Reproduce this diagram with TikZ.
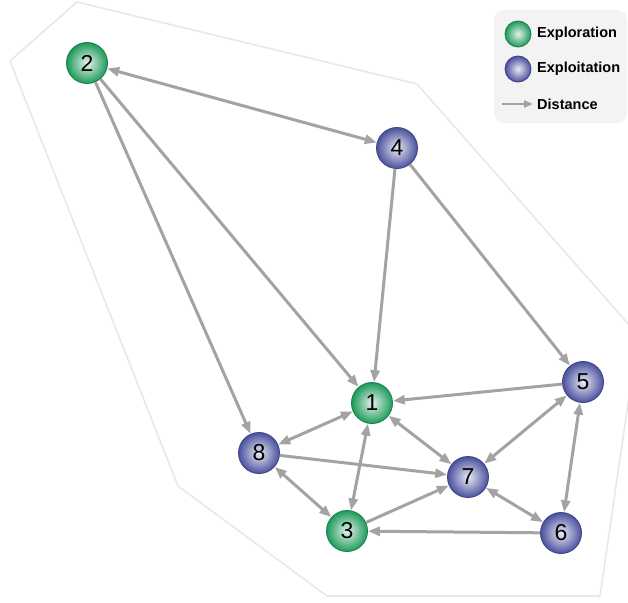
\documentclass[tikz,border=0pt]{standalone}
\usepackage{fontspec}
\setmainfont{Liberation Sans}
\usepackage{xcolor}
\usepackage{tikz}
\usetikzlibrary{arrows.meta}

\definecolor{exploreg}{HTML}{1E9A5A}
\definecolor{exploitb}{HTML}{4B519E}
\definecolor{edgegray}{HTML}{A3A3A3}
\definecolor{hullgray}{HTML}{E8E8E8}
\definecolor{legendbg}{HTML}{F3F3F3}

\begin{document}
\begin{tikzpicture}[x=1pt, y=-1pt,
  agent/.style={circle, minimum size=41pt, inner sep=0pt, line width=0.9pt, font=\fontsize{23}{23}\selectfont},
  explore/.style={agent, draw=exploreg!85!black, shading=radial, inner color=exploreg!12!white, outer color=exploreg},
  exploit/.style={agent, draw=exploitb!85!black, shading=radial, inner color=exploitb!12!white, outer color=exploitb},
  link/.style={draw=edgegray, line width=3pt, -{Triangle[length=12pt, width=9pt]}},
  both/.style={link, {Triangle[length=12pt, width=9pt]}-{Triangle[length=12pt, width=9pt]}},
  key/.style={anchor=west, inner sep=0pt, font=\fontsize{14.5}{14.5}\selectfont\bfseries}
]
  \clip (0,0) rectangle (628,602);
  % convex hull of the agents
  \draw[hullgray, line width=1.6pt, line join=round]
    (77,2) -- (417,84) -- (638,335) -- (600,596) -- (327,596) -- (178,486) -- (10,61) -- cycle;

  % legend
  \fill[legendbg, rounded corners=10pt] (494,10) rectangle (627,123);
  \node[explore, minimum size=26pt] (kexp) at (518,34) {};
  \node[exploit, minimum size=26pt] (kexl) at (518,69) {};
  \coordinate (kfrom) at (502,104);
  \coordinate (kto) at (533,104);
  \draw[link, line width=2.2pt, -{Triangle[length=9pt, width=7pt]}] (kfrom) -- (kto);
  \node[key] (lexp) at (537,34) {Exploration};
  \node[key] (lexl) at (537,69) {Exploitation};
  \node[key] (ldist) at (537,104) {Distance};

  % agents
  \node[explore] (n2) at (87,63) {2};
  \node[exploit] (n4) at (397,148) {4};
  \node[explore] (n1) at (372,403) {1};
  \node[exploit] (n5) at (583,382) {5};
  \node[exploit] (n8) at (259,453) {8};
  \node[exploit] (n7) at (468,477) {7};
  \node[explore] (n3) at (347,531) {3};
  \node[exploit] (n6) at (561,533) {6};

  % distances
  \draw[both] (n2) -- (n4);
  \draw[link] (n2) -- (n1);
  \draw[link] (n2) -- (n8);
  \draw[link] (n4) -- (n1);
  \draw[link] (n4) -- (n5);
  \draw[link] (n5) -- (n1);
  \draw[both] (n8) -- (n1);
  \draw[both] (n1) -- (n3);
  \draw[both] (n1) -- (n7);
  \draw[link] (n8) -- (n7);
  \draw[both] (n8) -- (n3);
  \draw[link] (n3) -- (n7);
  \draw[both] (n5) -- (n7);
  \draw[both] (n5) -- (n6);
  \draw[both] (n7) -- (n6);
  \draw[link] (n6) -- (n3);
\end{tikzpicture}
\end{document}
